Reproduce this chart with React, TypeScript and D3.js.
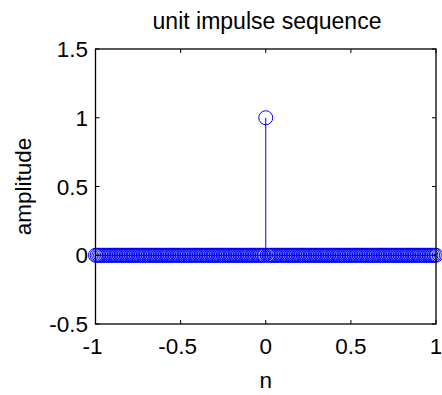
import React from 'react';
import * as d3 from 'd3';

// sample positions n (step 0.01) and the impulse values
const nValues = [
  -1, -0.99, -0.98, -0.97, -0.96, -0.95, -0.94, -0.93, -0.92, -0.91,
  -0.9, -0.89, -0.88, -0.87, -0.86, -0.85, -0.84, -0.83, -0.82, -0.81,
  -0.8, -0.79, -0.78, -0.77, -0.76, -0.75, -0.74, -0.73, -0.72, -0.71,
  -0.7, -0.69, -0.68, -0.67, -0.66, -0.65, -0.64, -0.63, -0.62, -0.61,
  -0.6, -0.59, -0.58, -0.57, -0.56, -0.55, -0.54, -0.53, -0.52, -0.51,
  -0.5, -0.49, -0.48, -0.47, -0.46, -0.45, -0.44, -0.43, -0.42, -0.41,
  -0.4, -0.39, -0.38, -0.37, -0.36, -0.35, -0.34, -0.33, -0.32, -0.31,
  -0.3, -0.29, -0.28, -0.27, -0.26, -0.25, -0.24, -0.23, -0.22, -0.21,
  -0.2, -0.19, -0.18, -0.17, -0.16, -0.15, -0.14, -0.13, -0.12, -0.11,
  -0.1, -0.09, -0.08, -0.07, -0.06, -0.05, -0.04, -0.03, -0.02, -0.01,
  0,
  0.01, 0.02, 0.03, 0.04, 0.05, 0.06, 0.07, 0.08, 0.09, 0.1,
  0.11, 0.12, 0.13, 0.14, 0.15, 0.16, 0.17, 0.18, 0.19, 0.2,
  0.21, 0.22, 0.23, 0.24, 0.25, 0.26, 0.27, 0.28, 0.29, 0.3,
  0.31, 0.32, 0.33, 0.34, 0.35, 0.36, 0.37, 0.38, 0.39, 0.4,
  0.41, 0.42, 0.43, 0.44, 0.45, 0.46, 0.47, 0.48, 0.49, 0.5,
  0.51, 0.52, 0.53, 0.54, 0.55, 0.56, 0.57, 0.58, 0.59, 0.6,
  0.61, 0.62, 0.63, 0.64, 0.65, 0.66, 0.67, 0.68, 0.69, 0.7,
  0.71, 0.72, 0.73, 0.74, 0.75, 0.76, 0.77, 0.78, 0.79, 0.8,
  0.81, 0.82, 0.83, 0.84, 0.85, 0.86, 0.87, 0.88, 0.89, 0.9,
  0.91, 0.92, 0.93, 0.94, 0.95, 0.96, 0.97, 0.98, 0.99, 1,
];
const amplitude = [
  0, 0, 0, 0, 0, 0, 0, 0, 0, 0,
  0, 0, 0, 0, 0, 0, 0, 0, 0, 0,
  0, 0, 0, 0, 0, 0, 0, 0, 0, 0,
  0, 0, 0, 0, 0, 0, 0, 0, 0, 0,
  0, 0, 0, 0, 0, 0, 0, 0, 0, 0,
  0, 0, 0, 0, 0, 0, 0, 0, 0, 0,
  0, 0, 0, 0, 0, 0, 0, 0, 0, 0,
  0, 0, 0, 0, 0, 0, 0, 0, 0, 0,
  0, 0, 0, 0, 0, 0, 0, 0, 0, 0,
  0, 0, 0, 0, 0, 0, 0, 0, 0, 0,
  1,
  0, 0, 0, 0, 0, 0, 0, 0, 0, 0,
  0, 0, 0, 0, 0, 0, 0, 0, 0, 0,
  0, 0, 0, 0, 0, 0, 0, 0, 0, 0,
  0, 0, 0, 0, 0, 0, 0, 0, 0, 0,
  0, 0, 0, 0, 0, 0, 0, 0, 0, 0,
  0, 0, 0, 0, 0, 0, 0, 0, 0, 0,
  0, 0, 0, 0, 0, 0, 0, 0, 0, 0,
  0, 0, 0, 0, 0, 0, 0, 0, 0, 0,
  0, 0, 0, 0, 0, 0, 0, 0, 0, 0,
  0, 0, 0, 0, 0, 0, 0, 0, 0, 0,
];
const xTicks = [-1, -0.5, 0, 0.5, 1];
const yTicks = [-0.5, 0, 0.5, 1, 1.5];

const W = 442, H = 395;
const left = 95.5, right = 436, top = 49, bottom = 324;
const blue = '#0000ff';
const font = '"Liberation Sans", Arial, sans-serif';

export default function App() {
  const x = d3.scaleLinear().domain([-1, 1]).range([left, right]);
  const y = d3.scaleLinear().domain([-0.5, 1.5]).range([bottom, top]);
  const tl = 4;
  return (
    <svg width={W} height={H} style={{ position: 'absolute', left: 0, top: 0, background: '#fff' }}
      fontFamily={font}>
      <rect x={0} y={0} width={W} height={H} fill="#fff" />
      {/* baseline */}
      <line x1={x(-1)} x2={x(1)} y1={y(0)} y2={y(0)} stroke="#000" strokeWidth={1} />
      {/* stems */}
      {nValues.map((n, i) => amplitude[i] !== 0 && (
        <line key={'s' + i} x1={x(n)} x2={x(n)} y1={y(0)} y2={y(amplitude[i])} stroke={blue} strokeWidth={1} />
      ))}
      {nValues.map((n, i) => (
        <circle key={'c' + i} cx={x(n)} cy={y(amplitude[i])} r={7} fill="none" stroke={blue} strokeWidth={1} />
      ))}
      {/* box */}
      <rect x={left} y={top} width={right - left} height={bottom - top} fill="none" stroke="#000" strokeWidth={1.3} />
      {xTicks.map(t => (
        <g key={'x' + t}>
          <line x1={x(t)} x2={x(t)} y1={bottom} y2={bottom - tl} stroke="#000" />
          <line x1={x(t)} x2={x(t)} y1={top} y2={top + tl} stroke="#000" />
          <text x={x(t) - (t < 0 ? 3 : 0)} y={354} textAnchor="middle" fontSize={22.5}>{t}</text>
        </g>
      ))}
      {yTicks.map(t => (
        <g key={'y' + t}>
          <line x1={left} x2={left + tl} y1={y(t)} y2={y(t)} stroke="#000" />
          <line x1={right} x2={right - tl} y1={y(t)} y2={y(t)} stroke="#000" />
          <text x={88} y={y(t) + 8} textAnchor="end" fontSize={22.5}>{t}</text>
        </g>
      ))}
      <text x={267} y={29} textAnchor="middle" fontSize={23}>unit impulse sequence</text>
      <text x={(left + right) / 2} y={388} textAnchor="middle" fontSize={22.5}>n</text>
      <text transform={`translate(31, ${(top + bottom) / 2}) rotate(-90)`} textAnchor="middle" fontSize={22.5}>amplitude</text>
    </svg>
  );
}
